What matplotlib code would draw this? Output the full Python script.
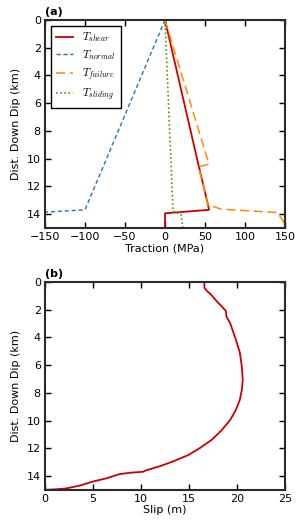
import numpy as np
import matplotlib
matplotlib.use("Agg")
import matplotlib.pyplot as plt

# panel (a): traction profiles, depth in km vs traction in MPa
shear_x = [0, 42, 54, 55, 0, 0]
shear_z = [0, 10.5, 13.4, 13.7, 13.95, 15]

normal_x = [0, -100, -160]
normal_z = [0, 13.7, 13.9]

failure_x = [0, 55, 42, 54, 60, 70, 141, 150, 152]
failure_z = [0, 10.4, 10.6, 13.4, 13.45, 13.65, 13.9, 14.75, 15]

sliding_x = [0, 10, 20, 22, 23, 40]
sliding_z = [0, 13.8, 14.0, 14.9, 15.0, 15.0]

# panel (b): slip profile
slip = [16.6, 16.6, 16.9, 17.3, 17.9, 18.4, 18.85, 18.9, 19.3, 19.6, 19.9, 20.3,
        20.5, 20.6, 20.5, 20.3, 19.9, 19.3, 18.4, 17.35, 16.1, 14.9, 13.3, 11.95,
        10.5, 10.2, 9.0, 7.8, 6.4, 5.0, 3.6, 2.2, 1.0, 0.0]
slip_z = [0.05, 0.43, 0.67, 0.92, 1.4, 1.76, 2.1, 2.5, 3.0, 3.6, 4.2, 5.1,
          6.1, 7.06, 7.8, 8.5, 9.2, 9.95, 10.7, 11.4, 12.0, 12.5, 12.96, 13.3,
          13.6, 13.7, 13.76, 13.86, 14.17, 14.4, 14.7, 14.9, 14.97, 15.0]

plt.rcParams['font.size'] = 8
plt.rcParams['mathtext.fontset'] = 'cm'

fig = plt.figure(figsize=(3.0, 5.25), dpi=100)
ax1 = fig.add_axes([0.15, 0.566, 0.80, 0.396])
ax2 = fig.add_axes([0.15, 0.067, 0.80, 0.396])


def style(ax):
    for s in ax.spines.values():
        s.set_linewidth(1.5)
        s.set_color('#2a2a2a')
    ax.tick_params(direction='in', top=True, right=True, length=4, width=1,
                   labelsize=8, pad=3)


ax1.plot(shear_x, shear_z, color='#cc0000', lw=1.3, label='$T_{shear}$')
ax1.plot(normal_x, normal_z, color='#1f77b4', lw=1.0, ls=(0, (3, 2)), label='$T_{normal}$')
ax1.plot(failure_x, failure_z, color='#ff8c00', lw=1.1, ls=(0, (6, 3)), label='$T_{failure}$')
ax1.plot(sliding_x, sliding_z, color='#4d9a00', lw=1.2, ls=(0, (1, 1.5)), label='$T_{sliding}$')
ax1.set_xlim(-150, 150)
ax1.set_ylim(15, 0)
ax1.set_xticks([-150, -100, -50, 0, 50, 100, 150])
ax1.set_yticks([0, 2, 4, 6, 8, 10, 12, 14])
ax1.set_xlabel('Traction (MPa)', labelpad=1)
ax1.set_ylabel('Dist. Down Dip (km)')
style(ax1)
leg = ax1.legend(loc='upper left', fontsize=8, fancybox=False, framealpha=1,
                 handlelength=1.6, borderpad=0.45, labelspacing=0.35)
leg.get_frame().set_edgecolor('black')
leg.get_frame().set_linewidth(1.0)
ax1.text(0.0, 1.015, '(a)', transform=ax1.transAxes, fontweight='bold',
         fontsize=8, ha='left', va='bottom')

ax2.plot(slip, slip_z, color='#cc0000', lw=1.3)
ax2.set_xlim(0, 25)
ax2.set_ylim(15, 0)
ax2.set_xticks([0, 5, 10, 15, 20, 25])
ax2.set_yticks([0, 2, 4, 6, 8, 10, 12, 14])
ax2.set_xlabel('Slip (m)', labelpad=1)
ax2.set_ylabel('Dist. Down Dip (km)')
style(ax2)
ax2.text(0.0, 1.015, '(b)', transform=ax2.transAxes, fontweight='bold',
         fontsize=8, ha='left', va='bottom')

fig.savefig('out.png', dpi=100)
